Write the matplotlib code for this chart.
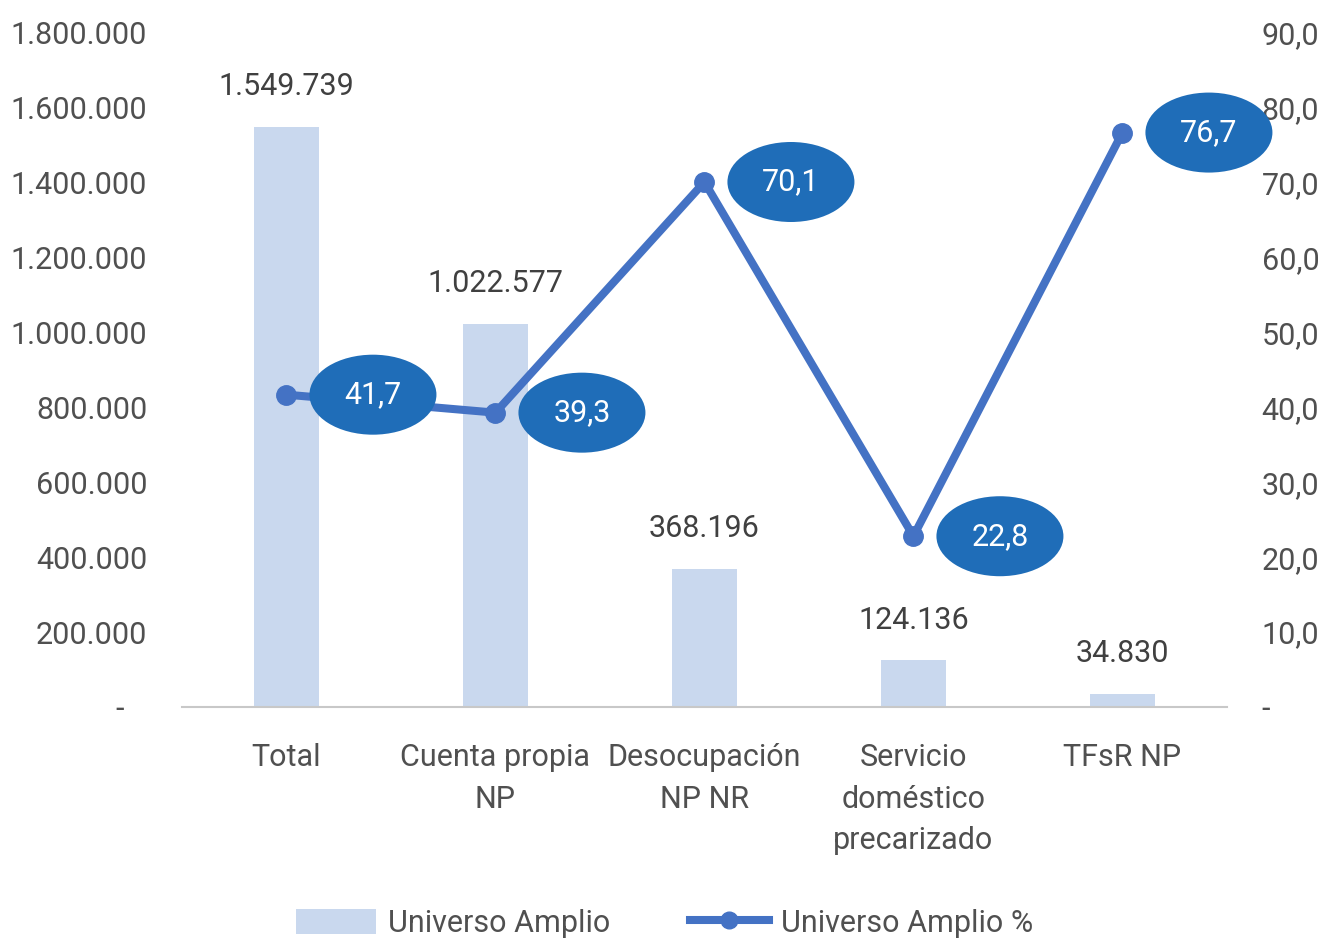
import matplotlib
matplotlib.use("Agg")
import matplotlib.pyplot as plt
from matplotlib.patches import Ellipse
from matplotlib.transforms import ScaledTranslation
from matplotlib.lines import Line2D
from matplotlib.patches import Patch

categories = ["Total", "Cuenta propia\nNP", "Desocupación\nNP NR", "Servicio\ndoméstico\nprecarizado", "TFsR NP"]
universo = [1549739, 1022577, 368196, 124136, 34830]
universo_pct = [41.7, 39.3, 70.1, 22.8, 76.7]
left_ticks = [0, 200000, 400000, 600000, 800000, 1000000, 1200000, 1400000, 1600000, 1800000]
right_ticks = [0, 10, 20, 30, 40, 50, 60, 70, 80, 90]

TXT = "#505050"
BAR = "#c9d8ee"
LINE = "#4472c4"
ELL = "#1f6db8"
FS = 22

plt.rcParams['font.family'] = ['Roboto', 'DejaVu Sans']

fig = plt.figure(figsize=(13.3, 9.42), dpi=100)
ax = fig.add_axes([0.1368, 0.2495, 0.7857, 0.7155])
ax2 = ax.twinx()

x = list(range(len(categories)))
ax.bar(x, universo, width=0.31, color=BAR, zorder=1)
ax.set_xlim(-0.5, 4.5)
ax.set_ylim(0, 1800000)
ax2.set_ylim(0, 90)

def fmt_thousands(v):
    return f"{int(v):,}".replace(",", ".")

ax.set_yticks(left_ticks)
ax.set_yticklabels(["-   "] + [fmt_thousands(v) for v in left_ticks[1:]])
ax2.set_yticks(right_ticks)
ax2.set_yticklabels(["-"] + [f"{v:.1f}".replace(".", ",") for v in right_ticks[1:]])
ax.set_xticks(x)
ax.set_xticklabels(categories, linespacing=1.55)

for a in (ax, ax2):
    a.tick_params(axis='both', length=0, labelsize=FS, labelcolor=TXT)
    for s in a.spines.values():
        s.set_visible(False)
ax.tick_params(axis='y', pad=25)
ax2.tick_params(axis='y', pad=25)
ax.tick_params(axis='x', pad=26)
ax.spines['bottom'].set_visible(True)
ax.spines['bottom'].set_color("#c8c8c8")
ax.spines['bottom'].set_linewidth(1.5)

for xi, v in zip(x, universo):
    ax.annotate(fmt_thousands(v), (xi, v), xytext=(0, 29), textcoords='offset points',
                ha='center', va='center', fontsize=FS, color="#404040")

ax2.plot(x, universo_pct, color=LINE, lw=5.8, marker='o', markersize=14, zorder=3,
         solid_capstyle='round')

for xi, v in zip(x, universo_pct):
    tr = fig.dpi_scale_trans + ScaledTranslation(xi, v, ax2.transData)
    e = Ellipse((0.865, 0.0), width=1.27, height=0.80, transform=tr, facecolor=ELL,
                edgecolor='none', zorder=4, clip_on=False)
    ax2.add_artist(e)
    ax2.text(0.865, 0.0, f"{v:.1f}".replace(".", ","), transform=tr, ha='center', va='center',
             color='white', fontsize=FS, zorder=5)

handles = [Patch(facecolor=BAR, edgecolor='none'),
           Line2D([0], [0], color=LINE, lw=5.8, marker='o', markersize=12)]
fig.legend(handles, ["Universo Amplio", "Universo Amplio %"], loc='center',
           bbox_to_anchor=(0.5, 0.02), ncol=2, frameon=False, fontsize=FS,
           labelcolor=TXT, handlelength=2.6, handleheight=0.9, columnspacing=2.6, handletextpad=0.4)

fig.savefig("out.png", dpi=100)
